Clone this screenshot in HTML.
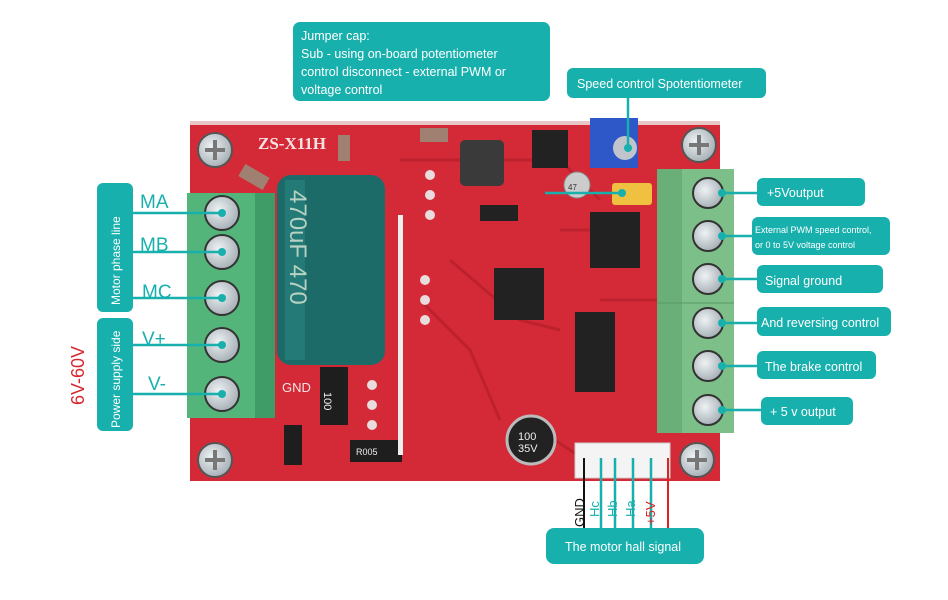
<!DOCTYPE html><html><head><style>
body{margin:0;background:#fff;width:948px;height:595px;overflow:hidden;font-family:"Liberation Sans",sans-serif}
</style></head><body>
<svg width="948" height="595" viewBox="0 0 948 595" xmlns="http://www.w3.org/2000/svg" font-family="Liberation Sans, sans-serif">
<defs>
<radialGradient id="scr" cx="0.4" cy="0.4" r="0.6"><stop offset="0" stop-color="#eef2f4"/><stop offset="1" stop-color="#a8b2b8"/></radialGradient>
</defs>
<!-- board -->
<rect x="190" y="121" width="530" height="360" fill="#d42a37"/>
<rect x="190" y="121" width="530" height="4" fill="#e9c6c6"/>
<!-- traces -->
<g stroke="#b81f2c" stroke-width="3" fill="none" opacity="0.8">
<path d="M400 160 L560 160 L600 200"/><path d="M450 260 L520 320 L560 330"/><path d="M420 300 L470 350 L500 420"/><path d="M560 230 L640 230"/><path d="M600 300 L660 300"/><path d="M540 430 L600 470"/>
</g>
<!-- corner screws -->
<g><circle cx="215" cy="150" r="17" fill="url(#scr)" stroke="#555" stroke-width="2"/><path d="M205 150h20M215 140v20" stroke="#777" stroke-width="4"/>
<circle cx="215" cy="460" r="17" fill="url(#scr)" stroke="#555" stroke-width="2"/><path d="M205 460h20M215 450v20" stroke="#777" stroke-width="4"/>
<circle cx="699" cy="145" r="17" fill="url(#scr)" stroke="#555" stroke-width="2"/><path d="M689 145h20M699 135v20" stroke="#777" stroke-width="4"/>
<circle cx="697" cy="460" r="17" fill="url(#scr)" stroke="#555" stroke-width="2"/><path d="M687 460h20M697 450v20" stroke="#777" stroke-width="4"/></g>
<text x="258" y="149" font-family="Liberation Serif,serif" font-weight="bold" font-size="17" fill="#f4e4e4">ZS-X11H</text>
<!-- components -->
<rect x="338" y="135" width="12" height="26" fill="#a08070"/>
<rect x="420" y="128" width="28" height="14" fill="#a08070"/>
<rect x="240" y="170" width="28" height="14" fill="#a08070" transform="rotate(30 254 177)"/>
<rect x="460" y="140" width="44" height="46" rx="5" fill="#3a3a3a"/>
<rect x="532" y="130" width="36" height="38" fill="#222"/>
<rect x="480" y="205" width="38" height="16" fill="#222"/>
<rect x="590" y="118" width="48" height="50" fill="#2e58c8"/><circle cx="625" cy="148" r="12" fill="#c0c4cc"/>
<circle cx="577" cy="185" r="13" fill="#ccc" stroke="#888"/><text x="568" y="190" font-size="8" fill="#333">47</text>
<rect x="612" y="183" width="40" height="22" rx="3" fill="#f0c040"/>
<rect x="590" y="212" width="50" height="56" fill="#222"/>
<rect x="494" y="268" width="50" height="52" fill="#222"/>
<rect x="575" y="312" width="40" height="80" fill="#222"/>
<rect x="320" y="367" width="28" height="58" fill="#1e1e1e"/><text x="326" y="410" font-size="11" fill="#eee" transform="rotate(90 334 400)">100</text>
<rect x="350" y="440" width="52" height="22" fill="#1e1e1e"/><text x="356" y="455" font-size="9" fill="#eee">R005</text>
<rect x="284" y="425" width="18" height="40" fill="#1e1e1e"/>
<circle cx="531" cy="440" r="24" fill="#222" stroke="#bbb" stroke-width="3"/><text x="518" y="440" font-size="11" fill="#eee">100</text><text x="518" y="452" font-size="11" fill="#eee">35V</text>
<text x="282" y="392" font-size="13" fill="#f4e4e4">GND</text>
<rect x="398" y="215" width="5" height="240" fill="#eee"/>
<g fill="#e9dcdc"><circle cx="430" cy="175" r="5"/><circle cx="430" cy="195" r="5"/><circle cx="430" cy="215" r="5"/><circle cx="425" cy="280" r="5"/><circle cx="425" cy="300" r="5"/><circle cx="425" cy="320" r="5"/><circle cx="372" cy="385" r="5"/><circle cx="372" cy="405" r="5"/><circle cx="372" cy="425" r="5"/></g>
<!-- capacitor -->
<rect x="277" y="175" width="108" height="190" rx="14" fill="#1d6b68"/>
<rect x="285" y="180" width="20" height="180" fill="#2a8480" opacity="0.6"/>
<text x="290" y="190" font-size="24" fill="#b7d2c2" transform="rotate(90 290 190)">470uF 470</text>
<!-- hall connector -->
<rect x="575" y="443" width="95" height="35" fill="#f4f4f4" stroke="#ccc"/>
<!-- left terminal -->
<rect x="187" y="193" width="88" height="225" fill="#53b57a"/>
<rect x="255" y="193" width="20" height="225" fill="#3f9c66"/>
<g fill="url(#scr)" stroke="#333" stroke-width="2">
<circle cx="222" cy="213" r="17"/><circle cx="222" cy="252" r="17"/><circle cx="222" cy="298" r="17"/><circle cx="222" cy="345" r="17"/><circle cx="222" cy="394" r="17"/></g>
<!-- right terminal -->
<rect x="657" y="169" width="77" height="264" fill="#7dbf88"/>
<rect x="657" y="169" width="25" height="264" fill="#6aaf78"/>
<line x1="657" y1="303" x2="734" y2="303" stroke="#5b9a67"/>
<g fill="url(#scr)" stroke="#333" stroke-width="2">
<circle cx="708" cy="193" r="15"/><circle cx="708" cy="236" r="15"/><circle cx="708" cy="279" r="15"/><circle cx="708" cy="323" r="15"/><circle cx="708" cy="366" r="15"/><circle cx="708" cy="410" r="15"/></g>
<!-- connector lines -->
<g stroke="#17b0ad" stroke-width="2.5" fill="none">
<path d="M132 213H222M132 252H222M132 298H222M132 345H222M132 394H222"/>
<path d="M722 193H757M722 236H752M722 279H757M722 323H757M722 366H757M722 410H761"/>
<path d="M628 98V148"/><path d="M545 193H622"/>
<path d="M601 458V528M615 458V528M633 458V528M651 458V528"/>
</g>
<path d="M584 458V528" stroke="#111" stroke-width="2"/><path d="M668 458V528" stroke="#d22" stroke-width="2"/>
<g fill="#17b0ad"><circle cx="222" cy="213" r="4"/><circle cx="222" cy="252" r="4"/><circle cx="222" cy="298" r="4"/><circle cx="222" cy="345" r="4"/><circle cx="222" cy="394" r="4"/>
<circle cx="722" cy="193" r="4"/><circle cx="722" cy="236" r="4"/><circle cx="722" cy="279" r="4"/><circle cx="722" cy="323" r="4"/><circle cx="722" cy="366" r="4"/><circle cx="722" cy="410" r="4"/><circle cx="628" cy="148" r="4"/><circle cx="622" cy="193" r="4"/></g>
<!-- left labels -->
<g fill="#17b0ad" font-size="19"><text x="140" y="208">MA</text><text x="140" y="251">MB</text><text x="142" y="298">MC</text><text x="142" y="345">V+</text><text x="148" y="390">V-</text></g>
<rect x="97" y="183" width="36" height="129" rx="6" fill="#17b0ad"/>
<rect x="97" y="318" width="36" height="113" rx="6" fill="#17b0ad"/>
<text transform="translate(120 305) rotate(-90)" font-size="12" fill="#fff">Motor phase line</text>
<text transform="translate(120 428) rotate(-90)" font-size="12" fill="#fff">Power supply side</text>
<text transform="translate(84 405) rotate(-90)" font-size="18" fill="#d8262e">6V-60V</text>
<!-- top labels -->
<rect x="293" y="22" width="257" height="79" rx="7" fill="#17b0ad"/>
<g fill="#fff" font-size="12.5"><text x="301" y="40">Jumper cap:</text><text x="301" y="58">Sub - using on-board potentiometer</text><text x="301" y="76">control disconnect - external PWM or</text><text x="301" y="94">voltage control</text></g>
<rect x="567" y="68" width="199" height="30" rx="6" fill="#17b0ad"/>
<text x="577" y="88" font-size="12.5" fill="#fff">Speed control Spotentiometer</text>
<!-- right labels -->
<g fill="#17b0ad"><rect x="757" y="178" width="108" height="28" rx="6"/><rect x="752" y="217" width="138" height="38" rx="6"/><rect x="757" y="265" width="126" height="28" rx="6"/><rect x="757" y="307" width="134" height="29" rx="6"/><rect x="757" y="351" width="119" height="28" rx="6"/><rect x="761" y="397" width="92" height="28" rx="6"/><rect x="546" y="528" width="158" height="36" rx="8"/></g>
<g fill="#fff" font-size="12.5"><text x="767" y="197">+5Voutput</text><text x="765" y="285">Signal ground</text><text x="761" y="327">And reversing control</text><text x="765" y="371">The brake control</text><text x="770" y="416">+ 5 v output</text><text x="565" y="551">The motor hall signal</text>
<text x="755" y="233" font-size="9">External PWM speed control,</text><text x="755" y="248" font-size="9">or 0 to 5V voltage control</text></g>
<!-- hall labels -->
<g font-size="13"><text transform="translate(584 527) rotate(-90)" fill="#111">GND</text><text transform="translate(599 517) rotate(-90)" fill="#17b0ad">Hc</text><text transform="translate(617 517) rotate(-90)" fill="#17b0ad">Hb</text><text transform="translate(635 517) rotate(-90)" fill="#17b0ad">Ha</text><text transform="translate(655 525) rotate(-90)" fill="#d22">+5V</text></g>
</svg>
</body></html>
